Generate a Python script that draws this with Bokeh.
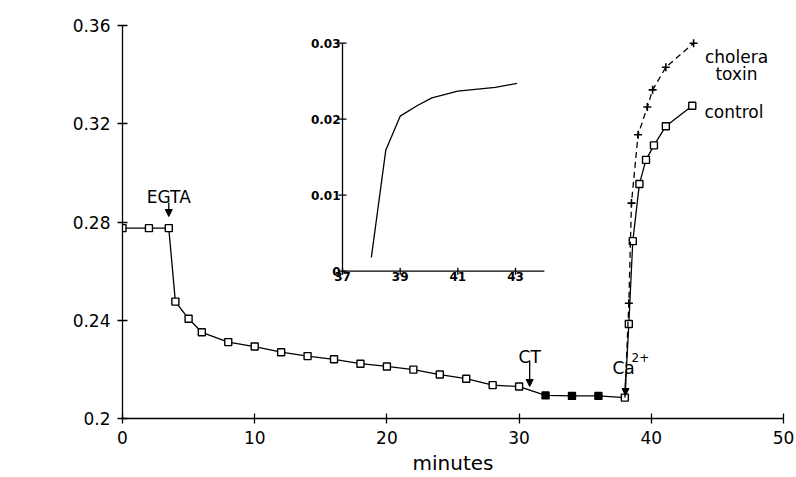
from bokeh.plotting import figure
from bokeh.models import Range1d, FixedTicker, Label, Arrow, NormalHead, ColumnDataSource
from bokeh.core.properties import value
from bokeh.embed import file_html
from bokeh.resources import INLINE
import math

# ---------------- data ----------------
# main trace (control cells), minutes vs A652
minutes = [0, 2, 3.5, 4, 5, 6, 8, 10, 12, 14, 16, 18, 20, 22, 24, 26, 28, 30,
           32, 34, 36, 38, 38.3, 38.6, 39.1, 39.6, 40.2, 41.1, 43.1]
a652 = [0.2775, 0.2775, 0.2775, 0.2476, 0.2406, 0.2351, 0.2311, 0.2293, 0.2270,
        0.2254, 0.2241, 0.2223, 0.2212, 0.2199, 0.2179, 0.2162, 0.2136, 0.2130,
        0.2094, 0.2092, 0.2092, 0.2085, 0.2385, 0.2722, 0.2955, 0.3053, 0.3112,
        0.3190, 0.3273]
# points measured after CT addition (filled symbols)
ct_treated = [False] * 18 + [True, True, True] + [False] * 8

# cholera toxin trace after Ca2+
tox_min = [38.0, 38.3, 38.5, 39.0, 39.7, 40.1, 41.1, 43.2]
tox_a652 = [0.2085, 0.2469, 0.2877, 0.3155, 0.3268, 0.3338, 0.3430, 0.3528]

# inset: difference (cholera toxin - control)
inset_min = [38.0, 38.5, 39.0, 39.6, 40.1, 41.0, 42.3, 43.05]
inset_diff = [0.0018, 0.0159, 0.0204, 0.0218, 0.0228, 0.0237, 0.0242, 0.0247]

x_ticks = [0, 10, 20, 30, 40, 50]
y_ticks = [0.2, 0.24, 0.28, 0.32, 0.36]
y_tick_labels = ["0.2", "0.24", "0.28", "0.32", "0.36"]
inset_x_ticks = [37, 39, 41, 43]
inset_x_labels = ["37", "39", "41", "43"]
inset_y_ticks = [0, 0.01, 0.02, 0.03]
inset_y_labels = ["0", "0.01", "0.02", "0.03"]

# events (additions)
events = ["EGTA", "CT", "Ca"]
event_x = [3.5, 30.8, 38.05]

FONT = "DejaVu Sans"

# ---------------- layout ----------------
W, H = 796, 477
F_LEFT, F_RIGHT, F_TOP, F_BOTTOM = 122, 783, 25, 418

p = figure(width=W, height=H, output_backend="svg", toolbar_location=None,
           x_range=Range1d(0, 50), y_range=Range1d(0.2, 0.36),
           min_border_left=F_LEFT, min_border_right=W - F_RIGHT,
           min_border_top=F_TOP, min_border_bottom=H - F_BOTTOM)
p.outline_line_color = None
p.grid.visible = False
p.background_fill_color = "white"
p.border_fill_color = "white"

for ax in (p.xaxis[0], p.yaxis[0]):
    ax.axis_line_color = "black"
    ax.axis_line_width = 1.3
    ax.major_tick_line_color = "black"
    ax.major_tick_line_width = 1.3
    ax.major_tick_in = 5
    ax.major_tick_out = 5
    ax.minor_tick_line_color = None
    ax.major_label_text_font = FONT
    ax.major_label_text_font_size = "17px"
    ax.major_label_text_color = "black"

p.xaxis.ticker = FixedTicker(ticks=x_ticks)
p.yaxis.ticker = FixedTicker(ticks=y_ticks)
p.yaxis.major_label_overrides = {t: l for t, l in zip(y_ticks, y_tick_labels)}
p.xaxis.major_label_standoff = 7
p.yaxis.major_label_standoff = 7
p.xaxis.axis_label = "minutes"
p.xaxis.axis_label_text_font = FONT
p.xaxis.axis_label_text_font_size = "20px"
p.xaxis.axis_label_text_font_style = "normal"
p.xaxis.axis_label_text_color = "black"
p.xaxis.axis_label_standoff = 4

# ---------------- main traces ----------------
p.line(minutes, a652, line_color="black", line_width=1.3)
fills = ["black" if t else "white" for t in ct_treated]
src = ColumnDataSource(dict(x=minutes, y=a652, f=fills))
p.scatter("x", "y", source=src, marker="square", size=7, fill_color="f",
          line_color="black", line_width=1.4)

p.line(tox_min, tox_a652, line_color="black", line_width=1.3, line_dash="6 4")
p.scatter(tox_min[1:], tox_a652[1:], marker="cross", size=8,
          line_color="black", line_width=1.6)

# ---------------- inset (own scales mapped into the frame) ----------------
sx = (F_RIGHT - F_LEFT) / 50.0
# inset anchors in pixels
ix37, ix43 = 342.0, 515.0
iy0, iy03 = 270.7, 42.7
ipx = (ix43 - ix37) / 6.0
ipy = (iy0 - iy03) / 0.03
p.extra_x_ranges = {"ix": Range1d(37 - (ix37 - F_LEFT) / ipx, 37 + (F_RIGHT - ix37) / ipx)}
p.extra_y_ranges = {"iy": Range1d(-(F_BOTTOM - iy0) / ipy, 0.03 + (iy03 - F_TOP) / ipy)}
kw = dict(x_range_name="ix", y_range_name="iy")

p.segment(x0=[37, 37], y0=[0, 0], x1=[44, 37], y1=[0, 0.03],
          line_color="black", line_width=1.3, **kw)
p.scatter([37] * len(inset_y_ticks), inset_y_ticks, marker="dash", size=8,
          line_color="black", line_width=1.3, **kw)
p.scatter(inset_x_ticks, [0] * len(inset_x_ticks), marker="dash", size=7,
          angle=math.pi / 2, line_color="black", line_width=1.3, **kw)
p.text([37] * len(inset_y_ticks), inset_y_ticks, text=inset_y_labels,
       text_font=value(FONT), text_font_size="12px", text_font_style="bold",
       text_align="right", text_baseline="middle", x_offset=-2, **kw)
p.text(inset_x_ticks, [0] * len(inset_x_ticks), text=inset_x_labels,
       text_font=value(FONT), text_font_size="12px", text_font_style="bold",
       text_align="center", text_baseline="top", y_offset=1, **kw)
p.line(inset_min, inset_diff, line_color="black", line_width=1.3, **kw)

# ---------------- annotations ----------------
def lab(x, y, t, size="17px", align="left", style="normal"):
    p.add_layout(Label(x=x, y=y, text=t, text_font=FONT, text_font_size=size,
                       text_align=align, text_baseline="alphabetic",
                       text_color="black", text_font_style=style))

def px2x(px):
    return (px - F_LEFT) / sx

def px2y(py):
    return 0.2 + (F_BOTTOM - py) * 0.16 / (F_BOTTOM - F_TOP)

# y axis label A 652 nm
lab(px2x(12), px2y(229), "A", size="20px")
lab(px2x(35), px2y(238), "652", size="17px")
lab(px2x(41), px2y(262), "nm", size="17px")

# event labels and arrows
lab(event_x[0], px2y(196), "EGTA", align="center")
lab(event_x[1], px2y(356), "CT", align="center")
lab(px2x(612), px2y(367), "Ca", align="left")
lab(px2x(631), px2y(357), "2+", size="12px", align="left")

arrow_y = [(px2y(202), px2y(216)), (px2y(360), px2y(386)), (px2y(378), px2y(395))]
for ex, (ys, ye) in zip(event_x, arrow_y):
    p.add_layout(Arrow(x_start=ex, y_start=ys, x_end=ex, y_end=ye,
                       line_color="black", line_width=1.3,
                       end=NormalHead(size=7, fill_color="black", line_color="black")))

# series labels
lab(px2x(736), px2y(56), "cholera", align="center")
lab(px2x(736), px2y(73), "toxin", align="center")
lab(px2x(704), px2y(111), "control", align="left")

open("out.html", "w").write(file_html(p, INLINE))
